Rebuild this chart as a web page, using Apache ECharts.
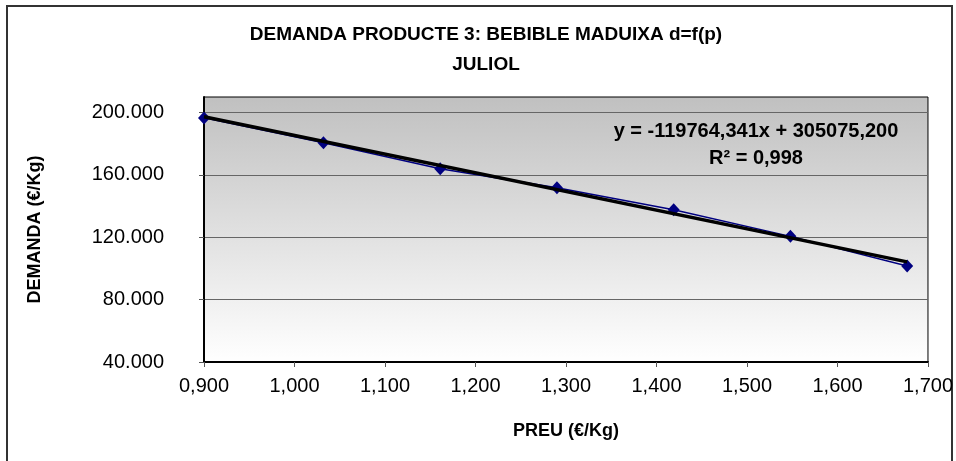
<!DOCTYPE html>
<html>
<head>
<meta charset="utf-8">
<script src="https://cdn.jsdelivr.net/npm/echarts@6/dist/echarts.min.js"></script>
<style>
  html, body { margin: 0; padding: 0; background: #fff; }
  #main { width: 956px; height: 461px; }
</style>
</head>
<body>
<div id="main"></div>
<script>
// dades llegides del gràfic
const prices = [0.900, 1.032, 1.161, 1.290, 1.419, 1.548, 1.677];
const demand = [196600, 180600, 164000, 151800, 137700, 120600, 101600];
const yTicks = [40000, 80000, 120000, 160000, 200000];
const trendSlope = -119764.341;
const trendIntercept = 305075.200;
const rSquared = 0.998;

const FONT = '"Liberation Sans", Arial, sans-serif';

function fmtThousands(v) {
  return String(Math.round(v)).replace(/\B(?=(\d{3})+(?!\d))/g, '.');
}
function fmtDec(v) {
  return v.toFixed(3).replace('.', ',');
}

const xMin = Math.min(...prices), xMax = Math.max(...prices);
const trend = [
  [xMin, trendSlope * xMin + trendIntercept],
  [xMax, trendSlope * xMax + trendIntercept]
];

const chart = echarts.init(document.getElementById('main'));
chart.setOption({
  animation: false,
  textStyle: { fontFamily: FONT },
  title: {
    text: 'DEMANDA PRODUCTE 3: BEBIBLE MADUIXA d=f(p)\nJULIOL',
    left: 481, top: 15, textAlign: 'center',
    textStyle: { fontSize: 19, fontWeight: 'bold', color: '#000', lineHeight: 30, fontFamily: FONT }
  },
  grid: {
    left: 204, right: 28, top: 97, bottom: 99,
    show: true,
    borderColor: '#000', borderWidth: 1,
    backgroundColor: new echarts.graphic.LinearGradient(0, 0, 0, 1, [
      { offset: 0, color: '#c0c0c0' },
      { offset: 1, color: '#ffffff' }
    ])
  },
  xAxis: {
    type: 'value', min: 0.9, max: 1.7, interval: 0.1,
    name: 'PREU (€/Kg)', nameLocation: 'middle', nameGap: 60,
    nameTextStyle: { fontSize: 18, fontWeight: 'bold', color: '#000', fontFamily: FONT },
    axisLine: { show: true, lineStyle: { color: '#000', width: 2 } },
    axisTick: { show: true, length: 5, lineStyle: { color: '#555' } },
    axisLabel: { fontSize: 20, color: '#000', margin: 14, formatter: v => fmtDec(v) },
    splitLine: { show: false }
  },
  yAxis: {
    type: 'value', min: 40000, max: 210000, interval: 40000,
    name: 'DEMANDA (€/Kg)', nameLocation: 'middle', nameGap: 160,
    nameTextStyle: { fontSize: 18, fontWeight: 'bold', color: '#000', fontFamily: FONT },
    axisLine: { show: true, lineStyle: { color: '#000', width: 2 } },
    axisTick: { show: true, length: 5, lineStyle: { color: '#555' }, customValues: yTicks },
    axisLabel: { fontSize: 20, color: '#000', margin: 40, customValues: yTicks, formatter: v => fmtThousands(v) },
    splitLine: { show: true, lineStyle: { color: '#666', width: 1 } }
  },
  series: [
    {
      type: 'line',
      data: prices.map((p, i) => [p, demand[i]]),
      symbol: 'diamond', symbolSize: [12, 13],
      lineStyle: { color: '#000080', width: 1.5 },
      itemStyle: { color: '#000080' },
      z: 2
    },
    {
      type: 'line',
      data: trend,
      symbol: 'none',
      lineStyle: { color: '#000', width: 3.5 },
      z: 3
    }
  ],
  graphic: [
    {
      type: 'rect', silent: true,
      shape: { x: 7, y: 6, width: 945, height: 470 },
      style: { fill: 'none', stroke: '#333', lineWidth: 2 }
    },
    {
      type: 'text', x: 756, y: 118, silent: true,
      style: {
        text: 'y = ' + fmtDec(trendSlope) + 'x + ' + fmtDec(trendIntercept) + '\nR² = ' + fmtDec(rSquared),
        align: 'center', lineHeight: 27,
        font: 'bold 20px ' + FONT, fill: '#000'
      },
      z: 10
    }
  ]
});
</script>
</body>
</html>
